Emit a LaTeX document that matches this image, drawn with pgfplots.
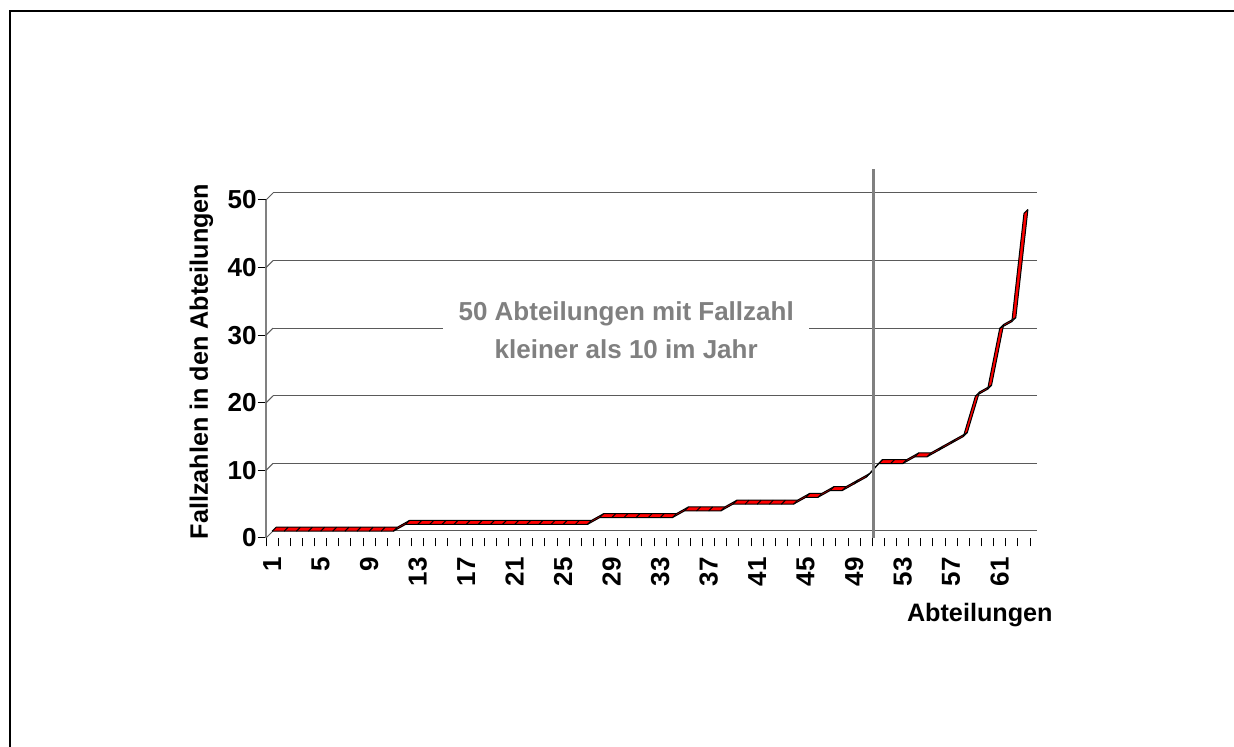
\documentclass[border=0pt]{standalone}
\usepackage{fontspec}
\setmainfont{Liberation Sans}
\usepackage{pgfplots}
\usepackage{pgfplotstable}
\usepgfplotslibrary{fillbetween}
\pgfplotsset{compat=1.18}
\usetikzlibrary{calc}

\definecolor{ribbonred}{RGB}{255,0,0}
\definecolor{midgray}{RGB}{128,128,128}
\definecolor{gridgray}{RGB}{90,90,90}

% short edge from the front of the ribbon to its back, at every point
\pgfdeclareplotmark{depth}{%
  \pgfpathmoveto{\pgfpointorigin}%
  \pgfpathlineto{\pgfpoint{2pt}{2pt}}%
  \pgfusepathqstroke}

\pgfplotstableread{
x y
1 1
2 1
3 1
4 1
5 1
6 1
7 1
8 1
9 1
10 1
11 1
12 2
13 2
14 2
15 2
16 2
17 2
18 2
19 2
20 2
21 2
22 2
23 2
24 2
25 2
26 2
27 2
28 3
29 3
30 3
31 3
32 3
33 3
34 3
35 4
36 4
37 4
38 4
39 5
40 5
41 5
42 5
43 5
44 5
45 6
46 6
47 7
48 7
49 8
50 9
51 11
52 11
53 11
54 12
55 12
56 13
57 14
58 15
59 21
60 22
61 31
62 32
63 48
}\fallzahlen

\begin{document}
\begin{tikzpicture}
\begin{axis}[
  at={(0,0)}, anchor=south west,
  scale only axis, width=382pt, height=169pt,
  xmin=0.5, xmax=63.5, ymin=0, ymax=50,
  clip=false,
  axis lines*=left,
  x axis line style={draw=none},
  y axis line style={midgray, line width=0.75pt},
  tick align=outside,
  major tick length=4.25pt,
  tick style={black, line width=0.5pt},
  xtick={0.5,1.5,...,63.5}, xticklabels={},
  extra x ticks={1,5,...,61},
  extra x tick style={major tick length=0pt},
  ytick={0,10,...,50},
  ymajorgrids,
  major grid style={gridgray, line width=0.5pt, xshift=3.5pt, yshift=3.5pt},
  /pgf/number format/assume math mode=true,
  tick label style={font=\fontsize{13}{15}\selectfont\bfseries},
  yticklabel style={inner sep=0.3pt},
  xticklabel style={rotate=90, anchor=east, inner sep=0pt},
  xticklabel shift=9.5pt,
  xlabel={Abteilungen},
  xlabel style={at={(rel axis cs:1,0)}, anchor=north east, inner sep=0pt,
    xshift=11.5pt, yshift=-32.5pt, font=\fontsize{12.6}{15}\selectfont\bfseries},
  ylabel={Fallzahlen in den Abteilungen},
  ylabel style={at={(rel axis cs:0,0.5)}, anchor=center,
    xshift=3.75pt, yshift=32.25pt, font=\fontsize{12.6}{15}\selectfont\bfseries},
]
  % slanted ends of the gridlines on the back wall
  \pgfplotsinvokeforeach{0,10,...,50}{
    \draw[gridgray, line width=0.5pt] (axis cs:0.5,#1) -- ++(3.5pt,3.5pt);
  }

  \addplot[name path=front, draw=none, forget plot] table {\fallzahlen};
  \addplot[name path=back, draw=none, forget plot, xshift=2pt, yshift=2pt] table {\fallzahlen};
  \addplot[fill=ribbonred, draw=none] fill between[of=front and back];
  \addplot[black, line width=0.5pt, mark=depth] table {\fallzahlen};
  \addplot[black, line width=0.5pt, xshift=2pt, yshift=2pt] table {\fallzahlen};

  \draw[midgray, line width=1.5pt] (axis cs:50.6,0) -- ++(0pt,184.5pt);

  \node[fill=white, align=center, text=midgray, inner xsep=7.75pt, inner ysep=3pt,
    font=\fontsize{13}{19}\selectfont\bfseries]
    at (axis cs:30.2,30.8) {50 Abteilungen mit Fallzahl\\kleiner als 10 im Jahr};
\end{axis}
\draw[line width=1pt] (-127.75pt,-104.5pt) -- (-127.75pt,263.5pt) -- (484pt,263.5pt);
\pgfresetboundingbox
\useasboundingbox (-133pt,-104.5pt) rectangle (484pt,269pt);
\end{tikzpicture}
\end{document}
